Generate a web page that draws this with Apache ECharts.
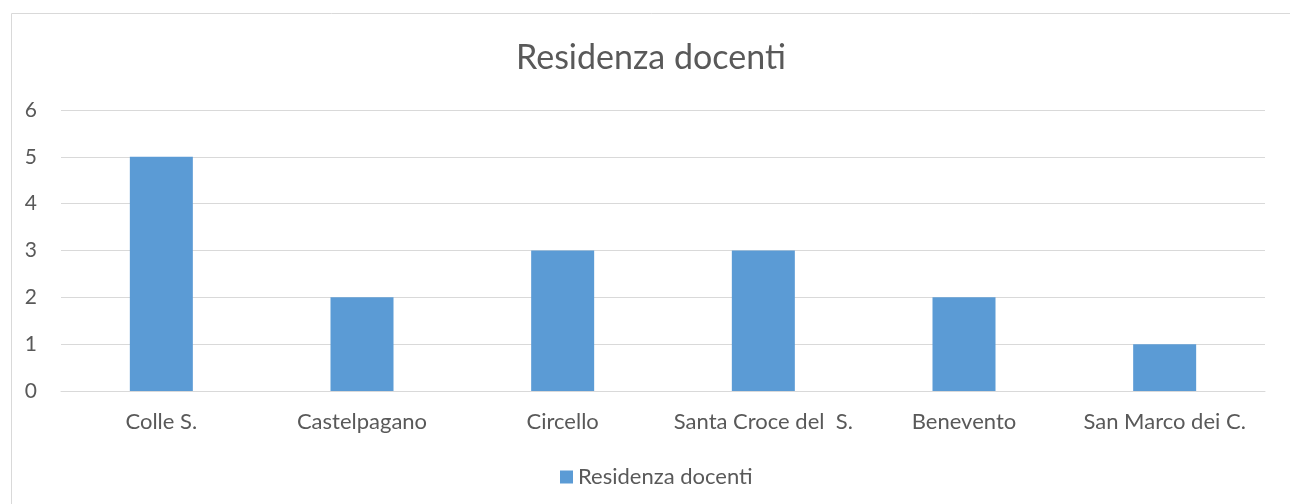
<!DOCTYPE html>
<html><head><meta charset="utf-8">
<script src="https://cdn.jsdelivr.net/npm/echarts@6/dist/echarts.min.js"></script>
<style>html,body{margin:0;padding:0;background:#fff}#c{width:1290px;height:504px}</style>
</head><body><div id="c"></div>
<script>
const categories = ['Colle S.', 'Castelpagano', 'Circello', 'Santa Croce del  S.', 'Benevento', 'San Marco dei C.'];
const values = [5, 2, 3, 3, 2, 1];
const seriesName = 'Residenza docenti';
const titleText = 'Residenza docenti';
const FONT = 'Lato';
const chart = echarts.init(document.getElementById('c'));
chart.setOption({
  animation: false,
  graphic: [{type:'rect', left:9, top:11, shape:{width:1300, height:600}, style:{fill:'none', stroke:'#D9D9D9', lineWidth:1}, silent:true}],
  title: {text: titleText, left: 511, top: 36, textStyle:{fontFamily:FONT, fontSize:34, fontWeight:'normal', color:'#595959'}},
  legend: {bottom: 11, left: 555, itemWidth:13, itemHeight:13, icon:'rect', itemGap:5, textStyle:{fontFamily:FONT, fontSize:22, color:'#595959'}, data:[seriesName]},
  grid: {left: 61, right: 25, top: 110, bottom: 113, containLabel:false},
  xAxis: {type:'category', data: categories, axisLine:{show:true, lineStyle:{color:'#D9D9D9'}}, axisTick:{show:false},
    axisLabel:{interval:0, fontFamily:FONT, fontSize:22, color:'#595959', margin:20}},
  yAxis: {type:'value', min:0, max:6, interval:1, axisLine:{show:false}, axisTick:{show:false},
    splitLine:{lineStyle:{color:'#D9D9D9', width:1}}, axisLabel:{fontFamily:FONT, fontSize:21, color:'#595959', margin:24}},
  series: [{name: seriesName, type:'bar', data: values, barWidth:63, itemStyle:{color:'#5B9BD5'}}]
});
</script></body></html>
